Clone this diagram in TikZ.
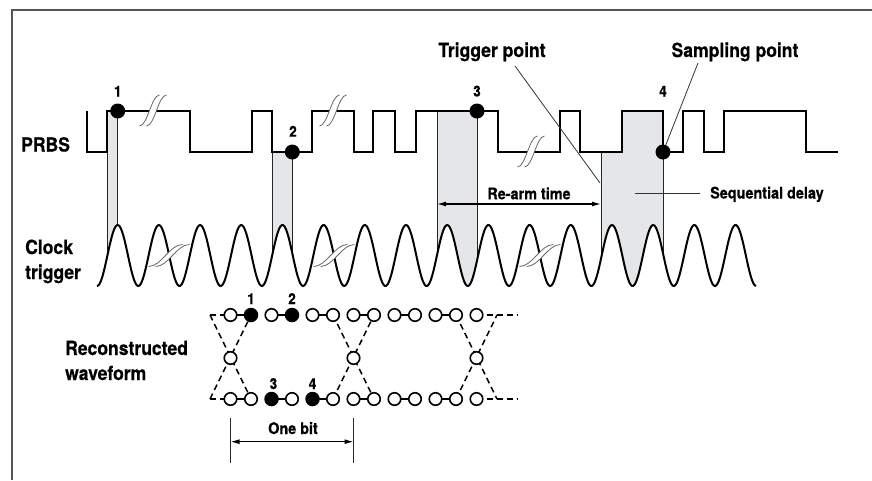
\documentclass[tikz,border=0pt]{standalone}
\usepackage{fontspec}
\setmainfont{TeX Gyre Heros}[FakeStretch=0.9, BoldFeatures={FakeBold=0.5}]
\usetikzlibrary{arrows.meta}
\definecolor{shadegray}{RGB}{229,230,232}
\definecolor{framec}{RGB}{85,85,85}
\newcommand\cy[1]{255.5-30.5*cos(8.73998*((#1)-117.7))}
\newcommand\ex[1]{230.5+20.5*(#1)}
\begin{document}
\begin{tikzpicture}[x=1pt,y=-1pt,
  wave/.style={line width=2pt},
  edgeln/.style={line width=0.9pt, black!85},
  lead/.style={line width=0.8pt, black!80},
  big/.style={font=\fontsize{19.5}{23}\selectfont\bfseries, inner sep=0pt},
  small/.style={font=\fontsize{16}{19}\selectfont\bfseries, inner sep=0pt},
  num/.style={font=\fontsize{15}{18}\selectfont\bfseries, inner sep=0pt},
  dot/.style={circle, fill=black, inner sep=0pt, minimum size=15pt},
  odot/.style={circle, draw=black, line width=1.6pt, fill=white, inner sep=0pt, minimum size=12.5pt},
  fdot/.style={circle, fill=black, inner sep=0pt, minimum size=14.5pt},
  eyedash/.style={line width=1.5pt, dash pattern=on 6pt off 4pt},
  eyesolid/.style={line width=1.5pt},
  arr/.style={line width=1.2pt, {Latex[length=9pt,width=5pt]}-{Latex[length=9pt,width=5pt]}},
  brk/.style={line width=0.8pt, black!60},
  brkv/.pic={
    \fill[white] (-13.5,15) .. controls (-5.5,15) and (-1.5,-16) .. (6.5,-16) -- (13.5,-16) .. controls (5.5,-16) and (1.5,15) .. (-6.5,15) -- cycle;
    \draw[brk] (-13.5,15) .. controls (-5.5,15) and (-1.5,-16) .. (6.5,-16);
    \draw[brk] (-6.5,15) .. controls (1.5,15) and (5.5,-16) .. (13.5,-16);
  },
  brkh/.pic={
    \fill[white] (-20.5,11) .. controls (-7.5,11) and (0.5,-11) .. (13.5,-11) -- (20.5,-11) .. controls (7.5,-11) and (-0.5,11) .. (-13.5,11) -- cycle;
    \draw[brk] (-20.5,11) .. controls (-7.5,11) and (0.5,-11) .. (13.5,-11);
    \draw[brk] (-13.5,11) .. controls (-0.5,11) and (7.5,-11) .. (20.5,-11);
  }
]
\useasboundingbox (0,0) rectangle (872,480);
% frame
\draw[framec, line width=1.5pt] (872,10) -- (12,10) -- (12,480);

% shaded regions
\fill[shadegray] (107,111) -- (117.7,111) -- plot[domain=117.7:107,samples=15] (\x,{\cy{\x}}) -- cycle;
\fill[shadegray] (272,152) -- (292.3,152) -- plot[domain=292.3:272,samples=20] (\x,{\cy{\x}}) -- cycle;
\fill[shadegray] (437,111) -- (477,111) -- plot[domain=477:437,samples=40] (\x,{\cy{\x}}) -- cycle;
\fill[shadegray] (601,152) -- (622,152) -- (622,111) -- (663,111) -- plot[domain=663:601,samples=60] (\x,{\cy{\x}}) -- cycle;

% region edges
\draw[edgeln] (107,152) -- (107,{\cy{107}});
\draw[edgeln] (117.7,111) -- (117.7,{\cy{117.7}});
\draw[edgeln] (272,152) -- (272,{\cy{272}});
\draw[edgeln] (292.3,152) -- (292.3,{\cy{292.3}});
\draw[edgeln] (437,111) -- (437,{\cy{437}});
\draw[edgeln] (477,111) -- (477,{\cy{477}});
\draw[edgeln] (601,152) -- (601,{\cy{601}});
\draw[edgeln] (663,152) -- (663,{\cy{663}});

% clock
\draw[wave] plot[domain=97:756, samples=500] (\x,{\cy{\x}});

% PRBS
\draw[wave] (87,111) -- (87,152) -- (107,152) -- (107,111) -- (190,111) -- (190,152) -- (252,152) -- (252,111) -- (272,111) -- (272,152) -- (312,152) -- (312,111) -- (354,111) -- (354,152) -- (373,152) -- (373,111) -- (395,111) -- (395,152) -- (416,152) -- (416,111) -- (498,111) -- (498,152) -- (560,152) -- (560,111) -- (580,111) -- (580,152) -- (622,152) -- (622,111) -- (663,111) -- (663,152) -- (683,152) -- (683,111) -- (704,111) -- (704,152) -- (724,152) -- (724,111) -- (806,111) -- (806,152) -- (838,152);

% breaks
\pic at (153,111) {brkv};
\pic at (333,111) {brkv};
\pic at (531,152) {brkv};
\pic at (169,255.5) {brkh};
\pic at (334,255.5) {brkh};
\pic at (540,255.5) {brkh};

% labels left
\node[big, anchor=base west] (lprbs) at (21,151.5) {PRBS};
\node[big, anchor=base west] (lclock) at (25,254) {Clock};
\node[big, anchor=base west] (ltrig) at (25,279) {trigger};
\node[big, anchor=base west] (lrec) at (65,355) {Reconstructed};
\node[big, anchor=base west] (lwave) at (65,380) {waveform};

% callouts
\node[big, anchor=base] (tp) at (492,57) {Trigger point};
\node[big, anchor=base] (sp) at (735,57) {Sampling point};
\coordinate (tpa) at (515,66);
\coordinate (tpb) at (600,183);
\coordinate (spa) at (698,63);
\draw[lead] (tpa) -- (tpb);

% dots
\node[dot] (d1) at (117.7,111) {};
\node[dot] (d2) at (292.3,152) {};
\node[dot] (d3) at (477,111) {};
\node[dot] (d4) at (663,152) {};
\draw[lead] (spa) -- (d4);
\node[num, anchor=base] (n1) at (117.7,96.5) {1};
\node[num, anchor=base] (n2) at (293,136.7) {2};
\node[num, anchor=base] (n3) at (477,96.5) {3};
\node[num, anchor=base] (n4) at (663,96.5) {4};

% re-arm
\coordinate (ra) at (437,204);
\coordinate (rb) at (601,204);
\draw[arr] (ra) -- (rb);
\node[small, anchor=base] (rat) at (529,199.3) {Re-arm time};
\coordinate (sda) at (635,193);
\coordinate (sdb) at (700,193);
\draw[lead] (sda) -- (sdb);
\node[small, anchor=base west] (sdt) at (710,198.5) {Sequential delay};

% eye diagram
\foreach \c in {0,6,12} {
  \draw[eyedash] ({\ex{\c-1}},315) -- ({\ex{\c+1}},399);
  \draw[eyedash] ({\ex{\c-1}},399) -- ({\ex{\c+1}},315);
}
\draw[eyedash] ({\ex{-1}},315) -- ({\ex{0}},315);
\draw[eyedash] ({\ex{-1}},399) -- ({\ex{0}},399);
\draw[eyedash] ({\ex{12}},315) -- ({\ex{14}},315);
\draw[eyedash] ({\ex{12}},399) -- ({\ex{14}},399);
\foreach \a/\b in {0/1,2/3,4/5,6/7,8/9,10/11} {
  \draw[eyesolid] ({\ex{\a}},315) -- ({\ex{\b}},315);
  \draw[eyesolid] ({\ex{\a}},399) -- ({\ex{\b}},399);
}
\foreach \i in {0,2,4,5,6,7,8,9,10,11,12} {
  \node[odot] (t\i) at ({\ex{\i}},315) {};
}
\foreach \i in {0,1,3,5,6,7,8,9,10,11,12} {
  \node[odot] (b\i) at ({\ex{\i}},399) {};
}
\node[fdot] (t1) at ({\ex{1}},315) {};
\node[fdot] (t3) at ({\ex{3}},315) {};
\node[fdot] (b2) at ({\ex{2}},399) {};
\node[fdot] (b4) at ({\ex{4}},399) {};
\foreach \c in {0,6,12} {
  \node[odot] (m\c) at ({\ex{\c}},358) {};
}
\node[num, anchor=base] (e1) at ({\ex{1}},304) {1};
\node[num, anchor=base] (e2) at ({\ex{3}},304) {2};
\node[num, anchor=base] (e3) at ({\ex{2}+2},389) {3};
\node[num, anchor=base] (e4) at ({\ex{4}},389) {4};

% one bit
\coordinate (oba) at ({\ex{0}},418);
\coordinate (obb) at ({\ex{0}},463);
\coordinate (obc) at ({\ex{6}},418);
\coordinate (obd) at ({\ex{6}},463);
\draw[edgeln] (oba) -- (obb);
\draw[edgeln] (obc) -- (obd);
\draw[arr] ({\ex{0}},441.7) -- ({\ex{6}},441.7);
\node[small, anchor=base] (obt) at (293,434) {One bit};
\end{tikzpicture}
\end{document}
